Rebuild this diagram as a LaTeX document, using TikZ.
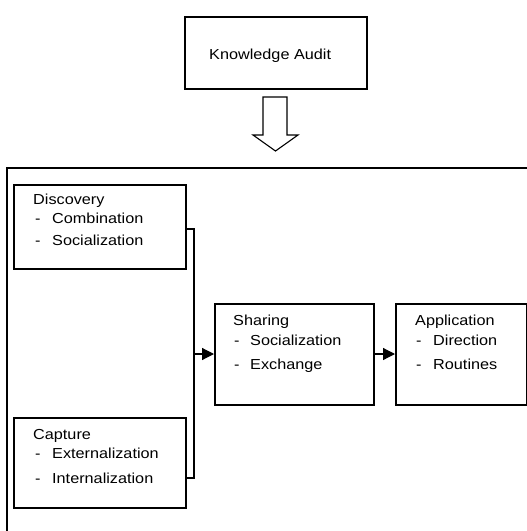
\documentclass[tikz,border=0pt]{standalone}
\usepackage{fontspec}
\setmainfont{Liberation Sans}[FakeStretch=1.12]
\usetikzlibrary{arrows.meta}
\begin{document}
\begin{tikzpicture}[x=1pt,y=-1pt,
  box/.style={draw, line width=1.5pt, anchor=north west, inner sep=0pt},
  lbl/.style={anchor=base west, inner sep=0pt, font=\fontsize{14.5}{17}\selectfont},
  conn/.style={line width=1.2pt},
  arr/.style={line width=1.2pt, -{Triangle[length=12pt,width=12pt]}}]
\useasboundingbox (0,0) rectangle (527,531);
% top box
\node[box, minimum width=182, minimum height=72] (audit) at (184,16) {};
\node[lbl] (audittxt) at (209,59) {Knowledge Audit};
% block arrow
\draw[line width=1.1pt, fill=white] (263,97) -- (287,97) -- (287,135) -- (298,135) -- (275.5,151) -- (253,135) -- (263,135) -- cycle;
% outer frame
\draw[line width=1.5pt] (527,168) -- (7,168) -- (7,531);
% boxes
\node[box, minimum width=172, minimum height=84] (disc) at (13,184) {};
\node[box, minimum width=172, minimum height=90] (capt) at (13,417) {};
\node[box, minimum width=159, minimum height=101] (shar) at (214,303) {};
\node[box, minimum width=131, minimum height=101] (appl) at (395,303) {};
% texts
\node[lbl] (t1) at (33,204) {Discovery};
\node[lbl] (t2) at (35,223) {-};
\node[lbl] (t3) at (52,223) {Combination};
\node[lbl] (t4) at (35,245) {-};
\node[lbl] (t5) at (52,245) {Socialization};
\node[lbl] (t6) at (33,439) {Capture};
\node[lbl] (t7) at (35,458) {-};
\node[lbl] (t8) at (52,458) {Externalization};
\node[lbl] (t9) at (35,483) {-};
\node[lbl] (t10) at (52,483) {Internalization};
\node[lbl] (t11) at (233,325.5) {Sharing};
\node[lbl] (t12) at (234,345) {-};
\node[lbl] (t13) at (250,345) {Socialization};
\node[lbl] (t14) at (234,369) {-};
\node[lbl] (t15) at (250,369) {Exchange};
\node[lbl] (t16) at (415,325.5) {Application};
\node[lbl] (t17) at (416,345) {-};
\node[lbl] (t18) at (433,345) {Direction};
\node[lbl] (t19) at (416,369) {-};
\node[lbl] (t20) at (433,369) {Routines};
% connectors
\coordinate (jt) at (194,229);
\coordinate (jb) at (194,478);
\coordinate (jm) at (194,354);
\draw[conn] (disc.east |- jt) -- (jt) -- (jb) -- (capt.east |- jb);
\draw[arr] (jm) -- (shar.west |- jm);
\draw[arr] (shar.east |- jm) -- (appl.west |- jm);
\end{tikzpicture}
\end{document}
